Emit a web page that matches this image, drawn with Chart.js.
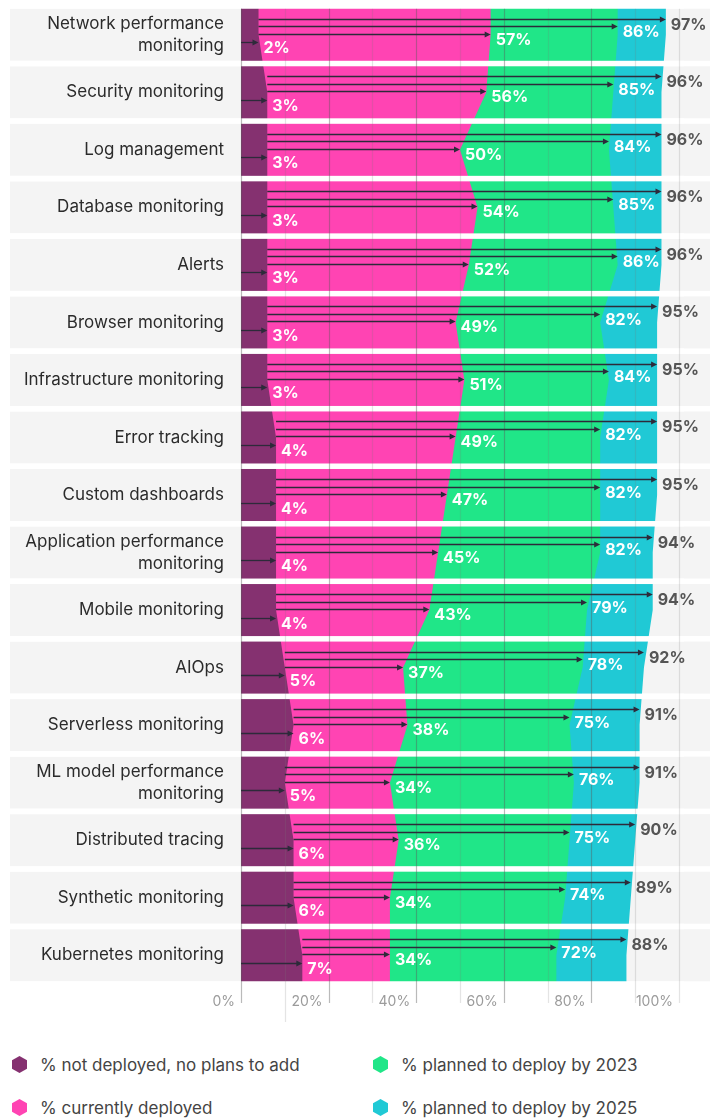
<!DOCTYPE html>
<html>
<head>
<meta charset="utf-8">
<script src="https://cdn.jsdelivr.net/npm/chart.js@4/dist/chart.umd.min.js"></script>
<style>
  body { margin: 0; background: #fff; font-family: Inter, "Noto Sans", sans-serif; }
  #wrap { position: relative; width: 710px; height: 1120px; }
  #box { position: absolute; left: 0; top: 0; width: 710px; height: 1030px; }
  .legend { position: absolute; left: 0; top: 1054px; width: 710px; display: grid;
            grid-template-columns: 361px 337px; padding-left: 12px; row-gap: 22px; }
  .item { display: flex; align-items: center; font-size: 17px; color: #444; height: 21px; }
  .hex { width: 15px; height: 17px; margin-right: 13px; flex: none;
         clip-path: polygon(50% 0, 100% 25%, 100% 75%, 50% 100%, 0 75%, 0 25%); }
</style>
</head>
<body>
<div id="wrap">
  <div id="box"><canvas id="chart"></canvas></div>
  <div class="legend" id="legend"></div>
</div>
<script>
const categories = [
  ['Network performance', 'monitoring'],
  'Security monitoring',
  'Log management',
  'Database monitoring',
  'Alerts',
  'Browser monitoring',
  'Infrastructure monitoring',
  'Error tracking',
  'Custom dashboards',
  ['Application performance', 'monitoring'],
  'Mobile monitoring',
  'AIOps',
  'Serverless monitoring',
  ['ML model performance', 'monitoring'],
  'Distributed tracing',
  'Synthetic monitoring',
  'Kubernetes monitoring'
];

const notDeployed       = [2, 3, 3, 3, 3, 3, 3, 4, 4, 4, 4, 5, 6, 5, 6, 6, 7];
const currentlyDeployed = [57, 56, 50, 54, 52, 49, 51, 49, 47, 45, 43, 37, 38, 34, 36, 34, 34];
const plannedBy2023     = [86, 85, 84, 85, 86, 82, 84, 82, 82, 82, 79, 78, 75, 76, 75, 74, 72];
const plannedBy2025     = [97, 96, 96, 96, 96, 95, 95, 95, 95, 94, 94, 92, 91, 91, 90, 89, 88];

const xTicks = [0, 20, 40, 60, 80, 100];

const seriesNames = [
  '% not deployed, no plans to add',
  '% currently deployed',
  '% planned to deploy by 2023',
  '% planned to deploy by 2025'
];
const colors = ['#853170', '#ff44b3', '#20e688', '#20c9d5'];

// one point per row, plus the first/last value repeated at the outer edges
function toPoints(arr) {
  const pts = arr.map((v, i) => ({ x: v, y: i }));
  pts.unshift({ x: arr[0], y: -0.5 });
  pts.push({ x: arr[arr.length - 1], y: arr.length - 0.5 });
  return pts;
}

const series = [notDeployed, currentlyDeployed, plannedBy2023, plannedBy2025];

const datasets = series.map((arr, k) => ({
  label: seriesNames[k],
  data: toPoints(arr),
  xAxisID: k === 0 ? 'x2' : 'x',
  backgroundColor: colors[k],
  borderWidth: 0,
  pointRadius: 0,
  tension: 0,
  fill: 'origin'
}));

const GAP = 5.5;

const rowsPlugin = {
  id: 'rows',
  beforeDraw(chart) {
    const ctx = chart.ctx, y = chart.scales.y;
    const pitch = Math.abs(y.getPixelForValue(1) - y.getPixelForValue(0));
    ctx.save();
    ctx.fillStyle = '#f4f4f4';
    categories.forEach((c, i) => {
      const py = y.getPixelForValue(i);
      ctx.fillRect(10, py - (pitch - GAP) / 2, 700, pitch - GAP);
    });
    ctx.restore();
  },
  afterDatasetsDraw(chart) {
    const ctx = chart.ctx, x = chart.scales.x, x2 = chart.scales.x2, y = chart.scales.y;
    const area = chart.chartArea;
    ctx.save();

    // white gaps between rows
    ctx.fillStyle = '#ffffff';
    for (let b = 0; b <= categories.length; b++) {
      const py = y.getPixelForValue(b - 0.5);
      ctx.fillRect(10, py - GAP / 2, 674, GAP);
    }

    // grid lines on top of the areas
    for (let v = 0; v <= 100; v += 10) {
      const px = Math.round(x.getPixelForValue(v)) + 0.5;
      const dark = v % 20 === 0 && v < 100;
      ctx.strokeStyle = dark ? 'rgba(90,90,90,0.42)' : 'rgba(120,120,120,0.2)';
      ctx.lineWidth = 1.2;
      ctx.beginPath();
      ctx.moveTo(px, area.top + GAP / 2);
      ctx.lineTo(px, v === 10 ? 1022 : 1003);
      ctx.stroke();
    }

    // arrows and value labels
    const offsets = [7.5, -1, -8.5, -16];
    ctx.font = 'bold 16px Inter, "Noto Sans", sans-serif';
    ctx.textBaseline = 'middle';
    ctx.textAlign = 'left';
    categories.forEach((c, i) => {
      const cy = y.getPixelForValue(i);
      const purpleEdge = x2.getPixelForValue(notDeployed[i]);
      series.forEach((arr, k) => {
        const ay = Math.round(cy + offsets[k]) + 0.5;
        const x0 = k === 0 ? x.getPixelForValue(0) : purpleEdge;
        const x1 = k === 0 ? purpleEdge : x.getPixelForValue(arr[i]);
        ctx.strokeStyle = '#2d2a3a';
        ctx.fillStyle = '#2d2a3a';
        ctx.lineWidth = 1.3;
        ctx.beginPath();
        ctx.moveTo(x0, ay);
        ctx.lineTo(x1 - 4, ay);
        ctx.stroke();
        ctx.beginPath();
        ctx.moveTo(x1, ay);
        ctx.lineTo(x1 - 6, ay - 3);
        ctx.lineTo(x1 - 6, ay + 3);
        ctx.closePath();
        ctx.fill();
        ctx.fillStyle = k === 3 ? '#555555' : '#ffffff';
        ctx.fillText(arr[i] + '%', x1 + 5, ay + 5.5);
      });
    });
    ctx.restore();
  }
};

new Chart(document.getElementById('chart'), {
  type: 'line',
  data: { datasets: datasets },
  plugins: [rowsPlugin],
  options: {
    indexAxis: 'y',
    responsive: true,
    maintainAspectRatio: false,
    animation: false,
    layout: { padding: { top: 6, right: 31, left: 0, bottom: 0 } },
    plugins: {
      legend: { display: false },
      tooltip: { enabled: false }
    },
    scales: {
      y: {
        type: 'linear',
        reverse: true,
        min: -0.5,
        max: categories.length - 0.5,
        afterBuildTicks: s => { s.ticks = categories.map((c, i) => ({ value: i })); },
        afterFit: s => { s.width = 241; s.paddingTop = 0; s.paddingBottom = 0; },
        ticks: {
          callback: v => categories[v],
          color: '#2b2b2b',
          padding: 17,
          font: { family: 'Inter', size: 17, lineHeight: 1.3 }
        },
        grid: { display: false, drawTicks: false },
        border: { display: false }
      },
      x: {
        type: 'linear',
        position: 'bottom',
        min: 0,
        max: 100,
        afterBuildTicks: s => { s.ticks = xTicks.map(v => ({ value: v })); },
        afterFit: s => { s.height = 46; s.paddingLeft = 0; s.paddingRight = 0; },
        ticks: {
          callback: v => v + '%',
          align: 'end',
          labelOffset: -6,
          padding: 9,
          color: '#9b9b9b',
          font: { family: 'Inter', size: 14 }
        },
        grid: { display: false, drawTicks: false },
        border: { display: false }
      },
      x2: {
        type: 'linear',
        axis: 'x',
        position: 'bottom',
        min: 0,
        max: 50,
        display: false
      }
    }
  }
});

// legend in two columns: column 1 = first two series, column 2 = last two
const legend = document.getElementById('legend');
[0, 2, 1, 3].forEach(k => {
  const item = document.createElement('div');
  item.className = 'item';
  const hex = document.createElement('span');
  hex.className = 'hex';
  hex.style.background = colors[k];
  item.appendChild(hex);
  item.appendChild(document.createTextNode(seriesNames[k]));
  legend.appendChild(item);
});
</script>
</body>
</html>
